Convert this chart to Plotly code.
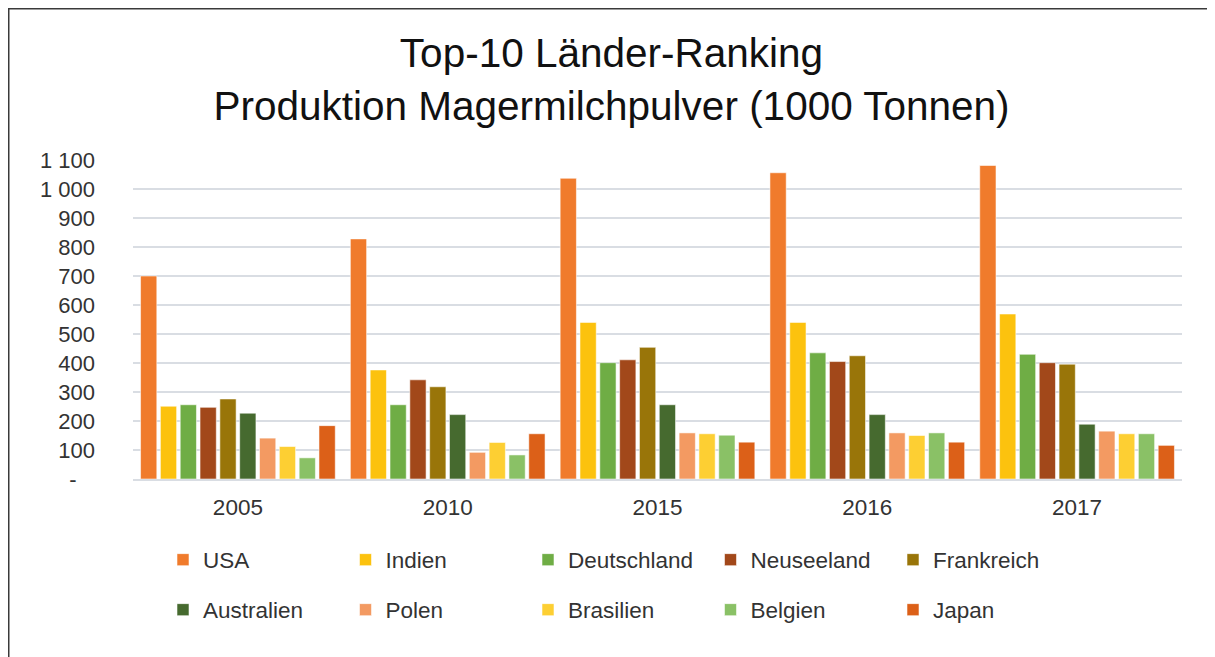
import plotly.graph_objects as go

years = ["2005", "2010", "2015", "2016", "2017"]
countries = ["USA", "Indien", "Deutschland", "Neuseeland", "Frankreich",
             "Australien", "Polen", "Brasilien", "Belgien", "Japan"]

usa = [700, 828, 1037, 1056, 1081]
indien = [251, 376, 540, 540, 569]
deutschland = [256, 256, 401, 435, 430]
neuseeland = [247, 342, 411, 405, 401]
frankreich = [276, 318, 454, 425, 396]
australien = [227, 222, 256, 222, 189]
polen = [141, 92, 159, 159, 165]
brasilien = [112, 126, 156, 150, 156]
belgien = [73, 83, 151, 159, 156]
japan = [184, 156, 127, 127, 116]

series = [usa, indien, deutschland, neuseeland, frankreich,
          australien, polen, brasilien, belgien, japan]
colors = ["#F07B2C", "#FCC20E", "#6FAD45", "#A2481A", "#997509",
          "#466A2F", "#F39A62", "#FDCF33", "#8AC166", "#DC6018"]

tick_vals = [0, 100, 200, 300, 400, 500, 600, 700, 800, 900, 1000, 1100]
tick_text = ["-\u00a0\u00a0\u00a0", "100", "200", "300", "400", "500", "600",
             "700", "800", "900", "1\u00a0000", "1\u00a0100"]

FONT = "Liberation Sans, Arial, sans-serif"
OFF = 8  # page body margin
W, H = 1215 - OFF, 657 - OFF
L, R, T, B = 133 - OFF, 33, 160 - OFF, 178
ph = H - T - B
pw = W - L - R


def px_x(x):
    # page x -> paper
    return (x - OFF - L) / pw


def px_y(y):
    # page y -> paper
    return (H - B - (y - OFF)) / ph


fig = go.Figure()
for i, (name, vals, col) in enumerate(zip(countries, series, colors)):
    fig.add_trace(go.Bar(
        name=name, x=years, y=vals,
        marker=dict(color=col, line=dict(color="rgba(255,255,255,0.55)", width=1)),
        legend="legend" if i < 5 else "legend2",
    ))

legend_common = dict(
    orientation="h", xanchor="left", yanchor="middle",
    entrywidth=137.5, entrywidthmode="pixels",
    font=dict(family=FONT, size=22.5, color="#333333"),
    bgcolor="rgba(0,0,0,0)", borderwidth=0,
)

fig.update_layout(
    width=W, height=H,
    margin=dict(l=L, r=R, t=T, b=B, autoexpand=False),
    paper_bgcolor="white", plot_bgcolor="white",
    font=dict(family=FONT, color="#333333"),
    barmode="group", bargap=0.055, bargroupgap=0.18,
    title=dict(
        text="Top-10 Länder-Ranking<br>Produktion Magermilchpulver (1000 Tonnen)",
        font=dict(family=FONT, size=40.5, color="#111111"),
        x=(611.5 - OFF) / W, xanchor="center", xref="container",
        y=1 - 59 / H, yanchor="top", yref="container",
    ),
    xaxis=dict(
        type="category", showgrid=False, zeroline=False,
        showline=True, linecolor="#D9DDE3", linewidth=2,
        ticks="", tickfont=dict(family=FONT, size=22.5, color="#333333"),
        ticklabelstandoff=7,
    ),
    yaxis=dict(
        range=[0, 1100], tickmode="array", tickvals=tick_vals, ticktext=tick_text,
        showgrid=True, gridcolor="#D9DDE3", gridwidth=2,
        zeroline=False, showline=False, ticks="",
        tickfont=dict(family=FONT, size=22, color="#333333"),
        ticklabelstandoff=37,
    ),
    legend=dict(x=px_x(163), y=px_y(560), **legend_common),
    legend2=dict(x=px_x(163), y=px_y(610), **legend_common),
    shapes=[dict(
        type="rect", xref="paper", yref="paper",
        x0=px_x(8.75), x1=px_x(1211.5), y0=px_y(690), y1=px_y(OFF + 0.75),
        line=dict(color="#3A3A3A", width=1.5), fillcolor="rgba(0,0,0,0)",
        layer="above",
    )],
)

fig.write_html("out.html")
